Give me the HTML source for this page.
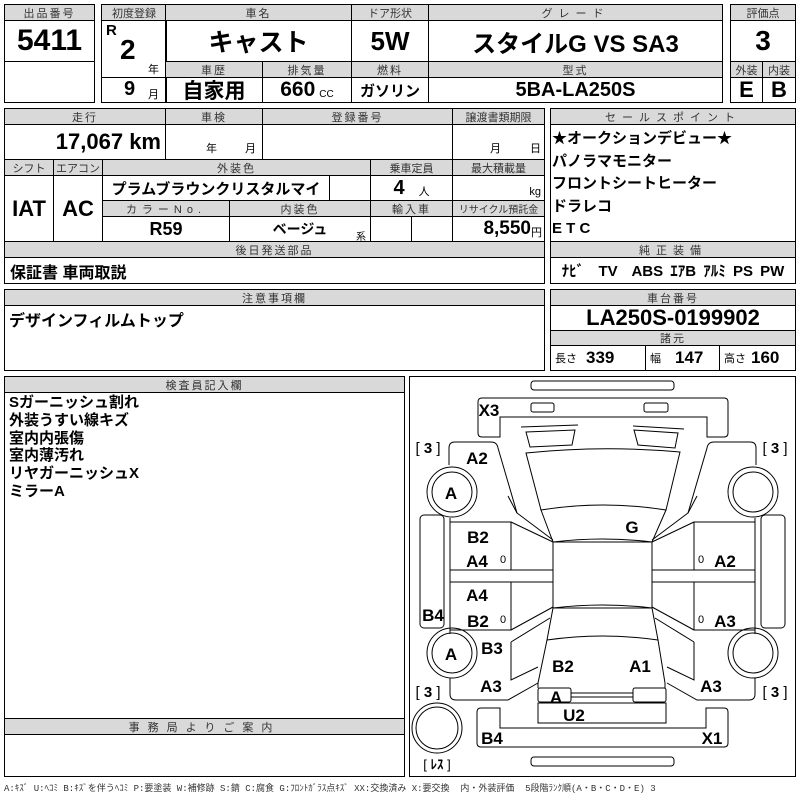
<!DOCTYPE html>
<html><head><meta charset="utf-8">
<style>
body{margin:0;width:800px;height:800px;background:#fff;position:relative;overflow:hidden;font-family:"Liberation Sans Narrow","Liberation Sans","Noto Sans CJK JP",sans-serif;color:#000}
.c{position:absolute;border:1px solid #000;box-sizing:border-box;display:flex;align-items:center;justify-content:center;white-space:nowrap}
.h{background:#d9d9d9;font-size:11px;color:#333;letter-spacing:2px;font-family:"Liberation Sans","Noto Sans CJK JP",sans-serif}
.b{font-weight:bold}
.t{position:absolute;white-space:nowrap}
.jp{font-family:"Liberation Sans","Noto Sans CJK JP",sans-serif;font-weight:bold}
</style></head><body>
<!-- top block -->
<div class="c h" style="left:4px;top:4px;width:91px;height:17px">出品番号</div>
<div class="c b" style="left:4px;top:20px;width:91px;height:42px;font-size:30px">5411</div>
<div class="c" style="left:4px;top:61px;width:91px;height:42px"></div>

<div class="c h" style="left:101px;top:4px;width:66px;height:17px;letter-spacing:0">初度登録</div>
<div class="c" style="left:101px;top:20px;width:66px;height:58px"></div>
<div class="t b" style="left:106px;top:22px;font-size:15px">R</div>
<div class="t b" style="left:120px;top:34px;font-size:28px">2</div>
<div class="t" style="left:148px;top:61px;font-size:11px">年</div>
<div class="c" style="left:101px;top:77px;width:66px;height:26px"></div>
<div class="t b" style="left:124px;top:78px;font-size:20px">9</div>
<div class="t" style="left:148px;top:86px;font-size:11px">月</div>

<div class="c h" style="left:165px;top:4px;width:187px;height:17px">車名</div>
<div class="c jp" style="left:165px;top:20px;width:187px;height:42px;font-size:25px">キャスト</div>
<div class="c h" style="left:351px;top:4px;width:78px;height:17px;letter-spacing:0">ドア形状</div>
<div class="c b" style="left:351px;top:20px;width:78px;height:42px;font-size:26px">5W</div>
<div class="c h" style="left:428px;top:4px;width:295px;height:17px;letter-spacing:6px">グレード</div>
<div class="c jp" style="left:428px;top:20px;width:295px;height:42px;font-size:24px">スタイルG&nbsp;VS&nbsp;SA3</div>

<div class="c h" style="left:165px;top:61px;width:98px;height:17px">車歴</div>
<div class="c h" style="left:262px;top:61px;width:90px;height:17px">排気量</div>
<div class="c h" style="left:351px;top:61px;width:78px;height:17px">燃料</div>
<div class="c h" style="left:428px;top:61px;width:295px;height:17px">型式</div>
<div class="c jp" style="left:165px;top:77px;width:98px;height:26px;font-size:21px">自家用</div>
<div class="c" style="left:262px;top:77px;width:90px;height:26px"><span class="b" style="font-size:21px">660</span><span style="font-size:10px;margin:8px 0 0 4px">CC</span></div>
<div class="c jp" style="left:351px;top:77px;width:78px;height:26px;font-size:15px">ガソリン</div>
<div class="c b" style="left:428px;top:77px;width:295px;height:26px;font-size:20px">5BA-LA250S</div>

<div class="c h" style="left:730px;top:4px;width:66px;height:17px;letter-spacing:0">評価点</div>
<div class="c b" style="left:730px;top:20px;width:66px;height:42px;font-size:28px">3</div>
<div class="c h" style="left:730px;top:61px;width:33px;height:17px;letter-spacing:0">外装</div>
<div class="c h" style="left:762px;top:61px;width:34px;height:17px;letter-spacing:0">内装</div>
<div class="c b" style="left:730px;top:77px;width:33px;height:26px;font-size:22px">E</div>
<div class="c b" style="left:762px;top:77px;width:34px;height:26px;font-size:22px">B</div>

<!-- block 2 -->
<div class="c h" style="left:4px;top:108px;width:162px;height:17px">走行</div>
<div class="c h" style="left:165px;top:108px;width:98px;height:17px">車検</div>
<div class="c h" style="left:262px;top:108px;width:191px;height:17px">登録番号</div>
<div class="c h" style="left:452px;top:108px;width:93px;height:17px;letter-spacing:0">譲渡書類期限</div>
<div class="c" style="left:4px;top:124px;width:162px;height:36px;justify-content:flex-end;padding-right:4px"><span class="b" style="font-size:22px">17,067 km</span></div>
<div class="c" style="left:165px;top:124px;width:98px;height:36px"></div>
<div class="t" style="left:206px;top:140px;font-size:11px">年</div><div class="t" style="left:245px;top:140px;font-size:11px">月</div>
<div class="c" style="left:262px;top:124px;width:191px;height:36px"></div>
<div class="c" style="left:452px;top:124px;width:93px;height:36px"></div>
<div class="t" style="left:490px;top:140px;font-size:11px">月</div><div class="t" style="left:530px;top:140px;font-size:11px">日</div>

<div class="c h" style="left:4px;top:159px;width:50px;height:17px;letter-spacing:0">シフト</div>
<div class="c h" style="left:53px;top:159px;width:50px;height:17px;letter-spacing:0">エアコン</div>
<div class="c h" style="left:102px;top:159px;width:269px;height:17px">外装色</div>
<div class="c h" style="left:370px;top:159px;width:83px;height:17px;letter-spacing:0">乗車定員</div>
<div class="c h" style="left:452px;top:159px;width:93px;height:17px;letter-spacing:0">最大積載量</div>
<div class="c b" style="left:4px;top:175px;width:50px;height:67px;font-size:22px">IAT</div>
<div class="c b" style="left:53px;top:175px;width:50px;height:67px;font-size:22px">AC</div>
<div class="c jp" style="left:102px;top:175px;width:228px;height:26px;font-size:15px">プラムブラウンクリスタルマイ</div>
<div class="c" style="left:329px;top:175px;width:42px;height:26px"></div>
<div class="c" style="left:370px;top:175px;width:83px;height:26px"><span class="b" style="font-size:20px">4</span><span style="font-size:11px;margin:6px 0 0 14px">人</span></div>
<div class="c" style="left:452px;top:175px;width:93px;height:26px;justify-content:flex-end;padding:8px 3px 0 0;font-size:11px">kg</div>
<div class="c h" style="left:102px;top:200px;width:128px;height:17px;letter-spacing:5px">カラーNo.</div>
<div class="c h" style="left:229px;top:200px;width:142px;height:17px">内装色</div>
<div class="c h" style="left:370px;top:200px;width:83px;height:17px">輸入車</div>
<div class="c h" style="left:452px;top:200px;width:93px;height:17px;letter-spacing:0;font-size:10px">リサイクル預託金</div>
<div class="c b" style="left:102px;top:216px;width:128px;height:26px;font-size:18px">R59</div>
<div class="c jp" style="left:229px;top:216px;width:142px;height:26px;font-size:14px">ベージュ</div>
<div class="t" style="left:356px;top:228px;font-size:10px">系</div>
<div class="c" style="left:370px;top:216px;width:42px;height:26px"></div>
<div class="c" style="left:411px;top:216px;width:42px;height:26px"></div>
<div class="c" style="left:452px;top:216px;width:93px;height:26px;justify-content:flex-end;padding-right:2px"><span class="b" style="font-size:19px">8,550</span><span style="font-size:11px;margin-top:6px">円</span></div>
<div class="c h" style="left:4px;top:241px;width:541px;height:17px">後日発送部品</div>
<div class="c jp" style="left:4px;top:257px;width:541px;height:27px;justify-content:flex-start;padding-left:5px;font-size:16px">保証書 車両取説</div>

<div class="c h" style="left:550px;top:108px;width:246px;height:17px;letter-spacing:6px">セールスポイント</div>
<div class="c" style="left:550px;top:124px;width:246px;height:118px"></div>
<div class="t jp" style="left:552px;top:128px;font-size:15px;line-height:22.5px">★オークションデビュー★<br>パノラマモニター<br>フロントシートヒーター<br>ドラレコ<br>E T C</div>
<div class="c h" style="left:550px;top:241px;width:246px;height:17px;letter-spacing:6px">純正装備</div>
<div class="c jp" style="left:550px;top:257px;width:246px;height:27px;font-size:15px;word-spacing:3px">ﾅﾋﾞ&nbsp; TV&nbsp; ABS ｴｱB ｱﾙﾐ PS PW</div>

<!-- block 3 -->
<div class="c h" style="left:4px;top:289px;width:541px;height:17px">注意事項欄</div>
<div class="c" style="left:4px;top:305px;width:541px;height:66px"></div>
<div class="t jp" style="left:9px;top:307px;font-size:16px">デザインフィルムトップ</div>
<div class="c h" style="left:550px;top:289px;width:246px;height:17px">車台番号</div>
<div class="c b" style="left:550px;top:305px;width:246px;height:26px;font-size:22px">LA250S-0199902</div>
<div class="c h" style="left:550px;top:330px;width:246px;height:16px">諸元</div>
<div class="c" style="left:550px;top:345px;width:96px;height:26px;justify-content:flex-start;padding-left:4px"><span style="font-size:11px">長さ</span><span class="b" style="font-size:17px;margin-left:9px">339</span></div>
<div class="c" style="left:645px;top:345px;width:75px;height:26px;justify-content:flex-start;padding-left:4px"><span style="font-size:11px">幅</span><span class="b" style="font-size:17px;margin-left:14px">147</span></div>
<div class="c" style="left:719px;top:345px;width:77px;height:26px;justify-content:flex-start;padding-left:4px"><span style="font-size:11px">高さ</span><span class="b" style="font-size:17px;margin-left:5px">160</span></div>

<!-- block 4 -->
<div class="c h" style="left:4px;top:376px;width:401px;height:17px">検査員記入欄</div>
<div class="c" style="left:4px;top:392px;width:401px;height:327px"></div>
<div class="t jp" style="left:9px;top:394px;font-size:15px;line-height:17.8px">Sガーニッシュ割れ<br>外装うすい線キズ<br>室内内張傷<br>室内薄汚れ<br>リヤガーニッシュX<br>ミラーA</div>
<div class="c h" style="left:4px;top:718px;width:401px;height:17px;letter-spacing:8px">事務局よりご案内</div>
<div class="c" style="left:4px;top:734px;width:401px;height:43px"></div>
<div class="t" style="left:4px;top:781px;font-size:9px;color:#333;font-family:'Liberation Mono','Noto Sans CJK JP',monospace">A:ｷｽﾞ U:ﾍｺﾐ B:ｷｽﾞを伴うﾍｺﾐ P:要塗装 W:補修跡 S:錆 C:腐食 G:ﾌﾛﾝﾄｶﾞﾗｽ点ｷｽﾞ XX:交換済み X:要交換&nbsp; 内・外装評価&nbsp; 5段階ﾗﾝｸ順(A・B・C・D・E) 3</div>

<!-- diagram -->
<svg style="position:absolute;left:0;top:0" width="800" height="800" viewBox="0 0 800 800" fill="none" stroke="#000" stroke-width="1">
<rect x="409.5" y="376.5" width="386" height="400"/>
<rect x="531" y="381" width="143" height="9" rx="3"/>
<path d="M478,402 q0,-4 4,-4 H724 q4,0 4,4 V433 q0,4 -4,4 H707 V417 H500 V437 H482 q-4,0 -4,-4 Z"/>
<rect x="531" y="403" width="23" height="9" rx="2"/>
<rect x="644" y="403" width="24" height="9" rx="2"/>
<path d="M521,427 L578,425 M633,426 L684,429"/>
<path d="M526,432 L575,430 L572,445 L530,447 Z"/>
<path d="M634,430 L678,433 L675,448 L638,445 Z"/>
<path d="M526,453 Q603,445 680,452 L666,510 Q603,500 541,510 Z"/>
<path d="M541,510 L553,542 Q603,536 652,542 L666,510"/>
<rect x="553" y="542" width="99" height="66"/>
<path d="M553,608 Q603,602 652,608 L658,640 Q603,632 547,640 Z"/>
<path d="M547,640 L538,683 L538,688 M658,640 L665,683 L665,688"/>
<rect x="538" y="688" width="33" height="14" rx="2"/>
<rect x="633" y="688" width="33" height="14" rx="2"/>
<path d="M571,693 H633 M571,697 H633"/>
<rect x="538" y="703" width="128" height="20"/>
<path d="M477,712 q0,-4 4,-4 H500 V728 H706 V708 H724 q4,0 4,4 V743 q0,4 -4,4 H481 q-4,0 -4,-4 Z"/>
<rect x="531" y="757" width="143" height="9" rx="3"/>
<circle cx="437" cy="728" r="25"/><circle cx="437" cy="728" r="21"/>
<g id="side">
<path d="M449,465 V448 q0,-6 6,-6 H491 q6,0 7,6 L517,513 L553,540"/>
<path d="M508,496 L517,513"/>
<circle cx="452" cy="492" r="25"/><circle cx="452" cy="492" r="20"/>
<rect x="420" y="515" width="24" height="113" rx="4"/>
<path d="M450,522 H511 V570 M450,570 H553 M450,582 H553 M450,630 H511 V582 M450,518 V634"/>
<path d="M511,522 L553,542 M511,630 L553,607"/>
<circle cx="452" cy="653" r="25"/><circle cx="452" cy="653" r="20"/>
<path d="M450,678 V694 q0,6 6,6 H508 L538,683"/>
<path d="M511,642 V680 L538,667 M511,642 L550,618"/>
</g>
<use href="#side" transform="translate(1205,0) scale(-1,1)"/>
</svg>
<svg style="position:absolute;left:0;top:0" width="800" height="800" viewBox="0 0 800 800">
<g font-family="Liberation Sans Narrow, Liberation Sans, sans-serif" font-weight="bold" font-size="17" text-anchor="middle" fill="#000">
<text x="489" y="416">X3</text>
<text x="477" y="464">A2</text>
<text x="451" y="499">A</text>
<text x="478" y="543">B2</text>
<text x="477" y="567">A4</text>
<text x="477" y="601">A4</text>
<text x="478" y="627">B2</text>
<text x="433" y="621">B4</text>
<text x="451" y="660">A</text>
<text x="492" y="654">B3</text>
<text x="491" y="692">A3</text>
<text x="563" y="672">B2</text>
<text x="640" y="672">A1</text>
<text x="556" y="703">A</text>
<text x="574" y="721">U2</text>
<text x="492" y="744">B4</text>
<text x="712" y="744">X1</text>
<text x="632" y="533">G</text>
<text x="725" y="567">A2</text>
<text x="725" y="627">A3</text>
<text x="711" y="692">A3</text>
</g>
<g font-family="Liberation Sans, sans-serif" font-size="11" fill="#000" text-anchor="middle">
<text x="503" y="563">0</text><text x="503" y="623">0</text>
<text x="701" y="563">0</text><text x="701" y="623">0</text>
</g>
<g font-family="Liberation Sans, Noto Sans CJK JP, sans-serif" font-size="15" fill="#000" text-anchor="middle">
<text x="428" y="453">[ <tspan font-weight="bold">3</tspan> ]</text>
<text x="775" y="453">[ <tspan font-weight="bold">3</tspan> ]</text>
<text x="428" y="697">[ <tspan font-weight="bold">3</tspan> ]</text>
<text x="775" y="697">[ <tspan font-weight="bold">3</tspan> ]</text>
<text x="437" y="769" font-size="13">[ <tspan font-weight="bold">ﾚｽ</tspan> ]</text>
</g>
</svg>
</body></html>
